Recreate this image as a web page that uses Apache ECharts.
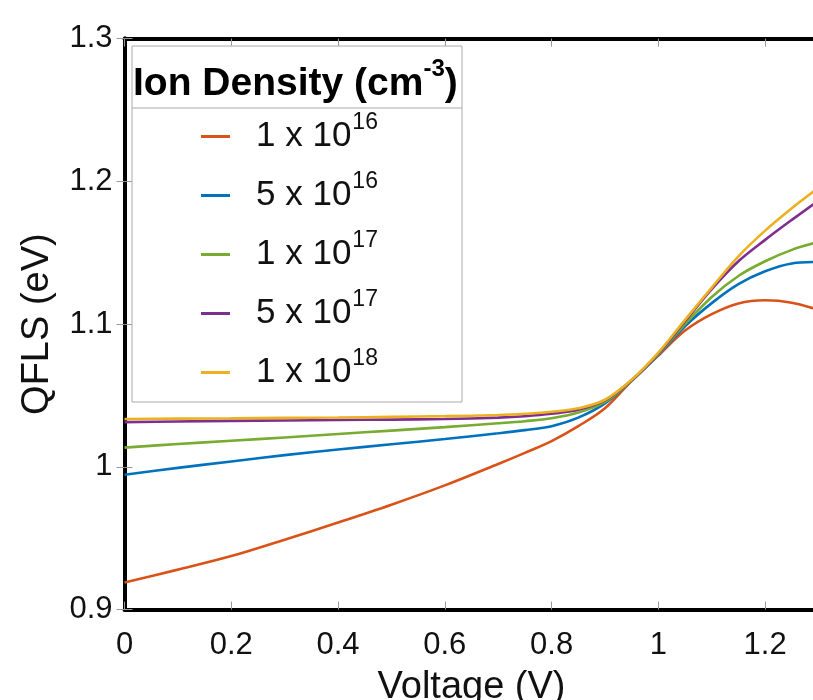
<!DOCTYPE html>
<html>
<head>
<meta charset="utf-8">
<script src="https://cdn.jsdelivr.net/npm/echarts@6/dist/echarts.min.js"></script>
<style>html,body{margin:0;padding:0;background:#fff}#c{width:813px;height:700px}</style>
</head>
<body>
<div id="c"></div>
<script>
// Voltage (V) sample points
var voltage = [0, 0.1, 0.2, 0.3, 0.4, 0.5, 0.6, 0.7, 0.75, 0.8, 0.85, 0.9, 0.95, 1.0, 1.05, 1.1, 1.15, 1.2, 1.25, 1.3];
// QFLS (eV) per ion density
var qfls1e16 = [0.919, 0.928, 0.9375, 0.949, 0.961, 0.9735, 0.987, 1.002, 1.0098, 1.018, 1.0285, 1.041, 1.0603, 1.078, 1.0955, 1.107, 1.1145, 1.1167, 1.115, 1.110];
var qfls5e16 = [0.9945, 0.9993, 1.0038, 1.0082, 1.0122, 1.0158, 1.0195, 1.0235, 1.0257, 1.0285, 1.0345, 1.0445, 1.0603, 1.0785, 1.0985, 1.1147, 1.128, 1.137, 1.1425, 1.1435];
var qfls1e17 = [1.0135, 1.016, 1.0183, 1.0206, 1.023, 1.0254, 1.0278, 1.0305, 1.032, 1.034, 1.038, 1.0455, 1.0605, 1.079, 1.100, 1.119, 1.1337, 1.144, 1.152, 1.1575];
var qfls5e17 = [1.0313, 1.0318, 1.0322, 1.0325, 1.0328, 1.0331, 1.0335, 1.0345, 1.0355, 1.0372, 1.040, 1.0465, 1.0607, 1.0795, 1.102, 1.1245, 1.144, 1.159, 1.173, 1.1865];
var qfls1e18 = [1.0335, 1.0338, 1.034, 1.0343, 1.0346, 1.035, 1.0355, 1.0363, 1.0372, 1.0386, 1.041, 1.047, 1.061, 1.080, 1.103, 1.1256, 1.1475, 1.1655, 1.1812, 1.1955];
// legend labels: mantissa x 10^exponent
var legendMantissa = ['1', '5', '1', '5', '1'];
var legendExponent = ['16', '16', '17', '17', '18'];
var seriesColors = ['#D95319', '#0072BD', '#77AC30', '#7E2F8E', '#EDB120'];
var xTicks = [0, 0.2, 0.4, 0.6, 0.8, 1, 1.2];

var FONT = "'Liberation Sans', Arial, sans-serif";
var allSeries = [qfls1e16, qfls5e16, qfls1e17, qfls5e17, qfls1e18];
var names = legendMantissa.map(function (m, i) { return m + ' x 10^' + legendExponent[i]; });

function pairs(arr) { return voltage.map(function (v, i) { return [v, arr[i]]; }); }

var chart = echarts.init(document.getElementById('c'), null, { renderer: 'canvas' });
var tickStyle = { show: true, inside: true, length: 8, lineStyle: { color: '#999', width: 1 } };
var axisLineStyle = { show: true, lineStyle: { color: '#000', width: 4 } };

var option = {
  backgroundColor: '#fff',
  animation: false,
  grid: { left: 124.5, top: 38.6, width: 694, height: 571, containLabel: false, outerBoundsMode: 'none' },
  xAxis: [{
    type: 'value', min: 0, max: 1.3, interval: 0.2, position: 'bottom',
    axisLine: axisLineStyle, axisTick: tickStyle, splitLine: { show: false },
    axisLabel: {
      fontSize: 31, color: '#111', fontFamily: FONT, margin: 20, showMaxLabel: false,
      formatter: function (v) { var r = Math.round(v * 10) / 10; return xTicks.indexOf(r) >= 0 ? String(r) : ''; }
    },
    name: 'Voltage (V)', nameLocation: 'middle', nameGap: 59,
    nameTextStyle: { fontSize: 38, color: '#111', fontFamily: FONT }
  }, {
    type: 'value', min: 0, max: 1.3, interval: 0.2, position: 'top',
    axisLine: axisLineStyle, axisTick: tickStyle, axisLabel: { show: false }, splitLine: { show: false }
  }],
  yAxis: [{
    type: 'value', min: 0.9, max: 1.3, interval: 0.1, position: 'left',
    axisLine: axisLineStyle, axisTick: tickStyle, splitLine: { show: false },
    axisLabel: { fontSize: 31, color: '#111', fontFamily: FONT, margin: 12 },
    name: 'QFLS (eV)', nameLocation: 'middle', nameGap: 68, nameRotate: 90,
    nameTextStyle: { fontSize: 38, color: '#111', fontFamily: FONT }
  }, {
    type: 'value', min: 0.9, max: 1.3, interval: 0.1, position: 'right',
    axisLine: axisLineStyle, axisTick: tickStyle, axisLabel: { show: false }, splitLine: { show: false }
  }],
  legend: {
    orient: 'vertical', left: 201, top: 111, itemWidth: 29, itemHeight: 3, icon: 'rect',
    itemGap: 16, padding: 0,
    data: names,
    formatter: function (name) {
      var i = names.indexOf(name);
      return '{b|' + legendMantissa[i] + ' x 10}{s|' + legendExponent[i] + '}';
    },
    textStyle: {
      rich: {
        b: { fontSize: 35, color: '#111', fontFamily: FONT, padding: [0, 0, 0, 21] },
        s: { fontSize: 23, color: '#111', fontFamily: FONT, padding: [0, 0, 28, 1] }
      }
    }
  },
  graphic: [
    { type: 'rect', z: 3, shape: { x: 132, y: 46, width: 330, height: 356 }, style: { fill: '#fff', stroke: '#aaa', lineWidth: 1 } },
    { type: 'line', z: 4, shape: { x1: 132, y1: 108, x2: 462, y2: 108 }, style: { stroke: '#aaa', lineWidth: 1 } },
    { type: 'text', z: 5, left: 133, top: 57, style: {
        text: '{t|Ion Density (cm}{s|-3}{t|)}',
        rich: {
          t: { fontSize: 39, fontWeight: 'bold', fill: '#000', fontFamily: FONT },
          s: { fontSize: 24, fontWeight: 'bold', fill: '#000', fontFamily: FONT, padding: [0, 0, 30, 0] }
        }
    } }
  ],
  series: allSeries.map(function (arr, i) {
    return {
      type: 'line', name: names[i], data: pairs(arr), smooth: 0.35, showSymbol: false, symbol: 'none',
      lineStyle: { color: seriesColors[i], width: 2.6 }, itemStyle: { color: seriesColors[i] },
      xAxisIndex: 0, yAxisIndex: 0, z: 2 + i * 0.01
    };
  })
};
chart.setOption(option);
</script>
</body>
</html>
